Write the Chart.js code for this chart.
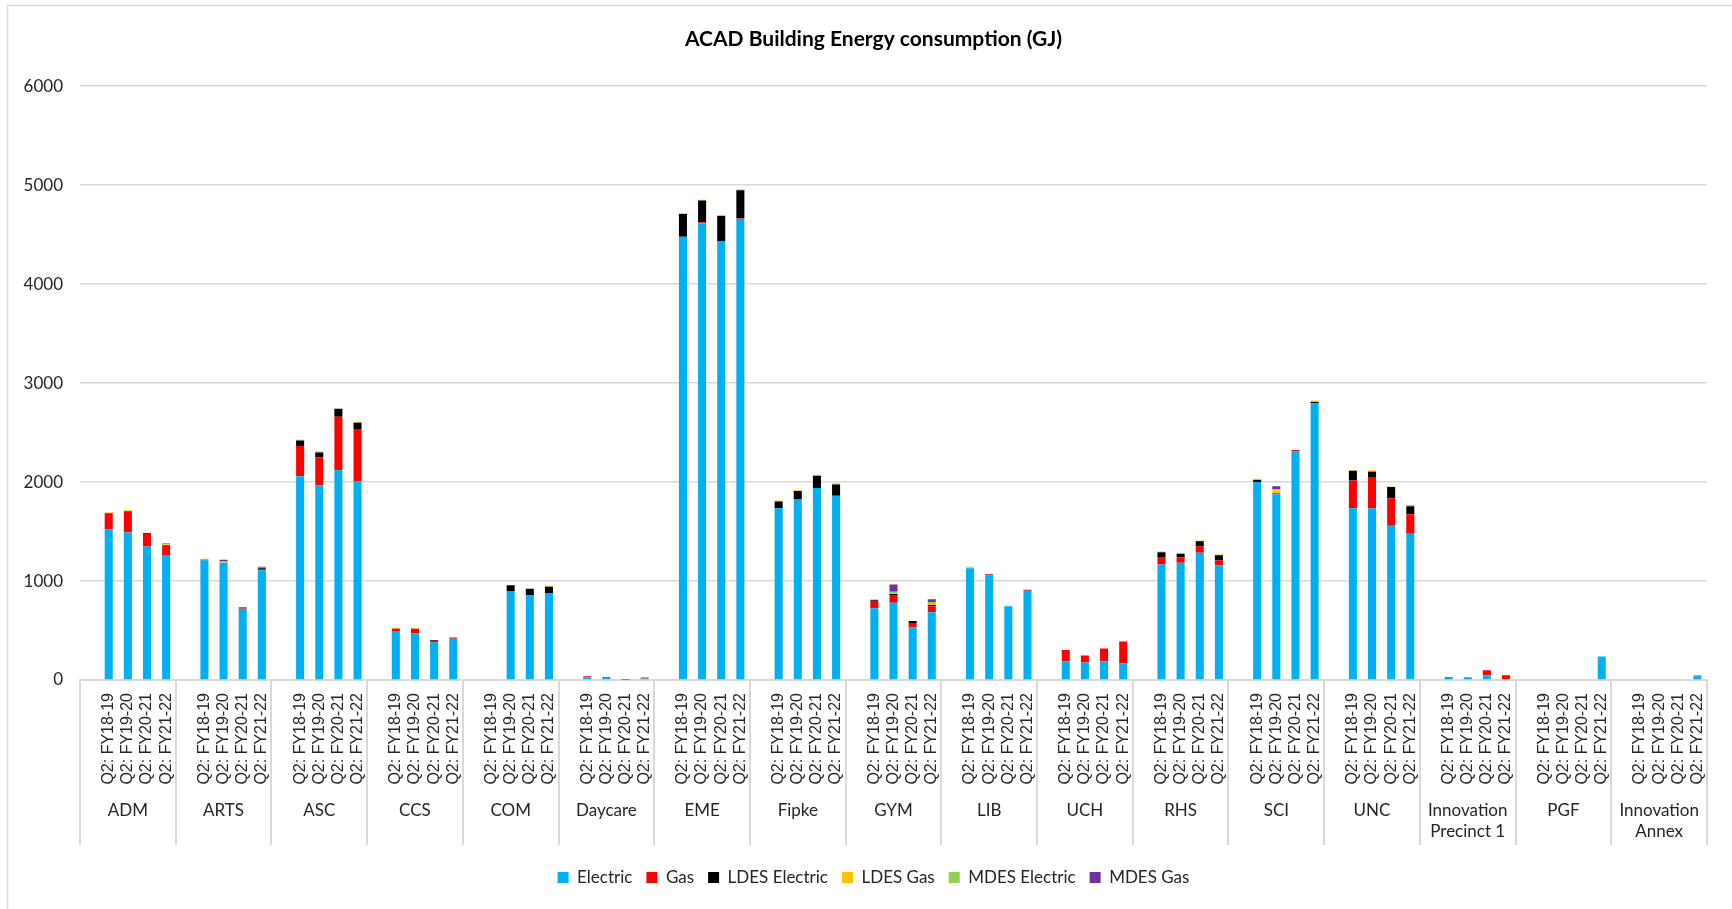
<!DOCTYPE html>
<html>
<head>
<meta charset="utf-8">
<title>ACAD Building Energy consumption (GJ)</title>
<script src="https://cdn.jsdelivr.net/npm/chart.js@4.4.0/dist/chart.umd.min.js"></script>
<style>
  html, body { margin: 0; padding: 0; background: #fff; }
  #wrap { width: 1732px; height: 909px; position: relative; }
</style>
</head>
<body>
<div id="wrap"><canvas id="energyChart"></canvas></div>
<script>
// --- data (GJ) ---
const buildings = ['ADM', 'ARTS', 'ASC', 'CCS', 'COM', 'Daycare', 'EME', 'Fipke', 'GYM', 'LIB',
  'UCH', 'RHS', 'SCI', 'UNC', ['Innovation', 'Precinct 1'], 'PGF', ['Innovation', 'Annex']];
const quarters = ['Q2: FY18-19', 'Q2: FY19-20', 'Q2: FY20-21', 'Q2: FY21-22'];

// one value per building per quarter, in the order of `buildings`
const electric = [
  1520, 1490, 1350, 1255,   1210, 1185, 720, 1110,   2060, 1965, 2120, 2005,   495, 470, 380, 417,
  0, 900, 860, 880,   27, 20, 5, 14,   4480, 4615, 4430, 4660,   1735, 1830, 1940, 1860,
  725, 780, 532, 685,   1130, 1058, 746, 902,   190, 176, 190, 166,   1166, 1186, 1285, 1156,
  2000, 1878, 2312, 2797,   1736, 1732, 1559, 1478,   20, 27, 47, 10,   0, 0, 0, 237,   0, 0, 0, 37
];
const gas = [
  160, 210, 125, 105,   5, 0, 8, 12,   305, 285, 540, 530,   24, 48, 17, 10,
  0, 0, 0, 0,   10, 7, 5, 5,   0, 10, 0, 8,   0, 0, 0, 10,
  72, 78, 44, 60,   0, 5, 0, 8,   112, 71, 129, 224,   78, 51, 64, 54,
  0, 10, 13, 0,   281, 319, 278, 197,   7, 0, 51, 38,   0, 0, 0, 0,   0, 0, 0, 8
];
const ldesElectric = [
  5, 5, 8, 5,   0, 0, 0, 8,   55, 48, 82, 65,   0, 0, 6, 0,
  0, 58, 62, 62,   0, 0, 0, 0,   228, 220, 262, 280,   68, 80, 125, 105,
  10, 10, 21, 13,   0, 0, 0, 0,   0, 0, 0, 0,   48, 38, 54, 51,
  20, 0, 0, 13,   98, 54, 112, 81,   0, 0, 0, 0,   0, 0, 0, 0,   0, 0, 0, 0
];
const ldesGas = [
  8, 10, 0, 5,   10, 8, 0, 5,   7, 14, 0, 10,   10, 7, 0, 7,
  0, 0, 0, 10,   0, 0, 0, 0,   8, 7, 0, 8,   10, 7, 5, 13,
  10, 10, 0, 10,   8, 0, 0, 8,   0, 0, 0, 0,   6, 6, 7, 7,
  14, 30, 0, 14,   7, 14, 7, 13,   0, 0, 0, 0,   0, 0, 0, 0,   0, 0, 0, 0
];
const mdesElectric = [
  0, 0, 0, 5,   0, 5, 0, 0,   0, 0, 0, 0,   0, 0, 0, 0,
  0, 0, 0, 0,   0, 0, 0, 0,   0, 0, 0, 0,   0, 0, 0, 0,
  0, 14, 0, 20,   6, 0, 0, 0,   0, 0, 0, 0,   0, 0, 0, 0,
  0, 10, 0, 0,   0, 0, 0, 0,   0, 0, 0, 0,   0, 0, 0, 0,   0, 0, 0, 0
];
const mdesGas = [
  0, 0, 0, 5,   0, 18, 7, 10,   0, 0, 0, 0,   0, 0, 0, 0,
  0, 0, 0, 0,   0, 0, 0, 5,   0, 0, 0, 0,   0, 0, 0, 0,
  0, 74, 0, 27,   0, 8, 0, 0,   0, 0, 0, 0,   0, 0, 0, 0,
  0, 30, 0, 0,   0, 0, 0, 0,   0, 0, 0, 0,   0, 0, 0, 0,   0, 0, 0, 0
];

const seriesNames = ['Electric', 'Gas', 'LDES Electric', 'LDES Gas', 'MDES Electric', 'MDES Gas'];
const seriesColors = ['#00B0F0', '#FF0000', '#000000', '#FFC000', '#92D050', '#7030A0'];

// Excel left an empty slot at the start of every building group
const SLOTS = quarters.length + 1;
const labels = [];
buildings.forEach(() => { labels.push(''); quarters.forEach(q => labels.push(q)); });

function spread(values) {
  const out = [];
  buildings.forEach((b, i) => {
    out.push(null);
    for (let j = 0; j < quarters.length; j++) out.push(values[i * quarters.length + j]);
  });
  return out;
}

const seriesValues = [electric, gas, ldesElectric, ldesGas, mdesElectric, mdesGas];

const chartData = {
  labels: labels,
  datasets: seriesNames.map((name, i) => ({
    label: name,
    data: spread(seriesValues[i]),
    backgroundColor: seriesColors[i],
    borderWidth: 0,
    barPercentage: 0.42,
    categoryPercentage: 1.0
  }))
};

// outer frame, group separators and the building names under the quarter labels
const groupAxis = {
  id: 'groupAxis',
  beforeDraw(chart) {
    const ctx = chart.ctx;
    ctx.save();
    ctx.strokeStyle = '#d9d9d9';
    ctx.lineWidth = 1.5;
    ctx.beginPath();
    ctx.moveTo(7, 5.5); ctx.lineTo(1732, 5.5);
    ctx.moveTo(7.5, 5); ctx.lineTo(7.5, 909);
    ctx.stroke();
    ctx.restore();
  },
  afterDraw(chart) {
    const ctx = chart.ctx;
    const x = chart.scales.x;
    const base = chart.chartArea.bottom;
    const slot = x.getPixelForValue(1) - x.getPixelForValue(0);
    ctx.save();
    ctx.strokeStyle = '#d9d9d9';
    ctx.lineWidth = 2;
    ctx.beginPath();
    for (let g = 0; g <= buildings.length; g++) {
      const px = Math.round(x.getPixelForValue(g * SLOTS) - slot / 2);
      ctx.moveTo(px, base);
      ctx.lineTo(px, 845);
    }
    ctx.stroke();

    ctx.fillStyle = '#262626';
    ctx.font = '17px Lato';
    ctx.textAlign = 'center';
    ctx.textBaseline = 'middle';
    buildings.forEach((b, g) => {
      const left = x.getPixelForValue(g * SLOTS) - slot / 2;
      const cx = left + slot * SLOTS / 2;
      const lines = Array.isArray(b) ? b : [b];
      lines.forEach((t, k) => ctx.fillText(t, cx, 811 + k * 21));
    });
    ctx.restore();
  }
};

const chartOptions = {
  responsive: true,
  maintainAspectRatio: false,
  animation: false,
  layout: { padding: { left: 20, right: 5, top: 0, bottom: 13 } },
  scales: {
    x: {
      stacked: true,
      afterFit: (s) => { s.height = 175; },
      grid: { display: false, drawTicks: false },
      border: { display: true, color: '#d9d9d9', width: 2 },
      ticks: {
        autoSkip: false,
        maxRotation: 90,
        minRotation: 90,
        padding: 13,
        color: '#262626',
        font: { family: 'Liberation Sans', size: 16 }
      }
    },
    y: {
      stacked: true,
      min: 0,
      max: 6000,
      afterFit: (s) => { s.width = 60; },
      grid: { color: '#d9d9d9', lineWidth: 1.5, drawTicks: false },
      border: { display: false },
      ticks: {
        stepSize: 1000,
        padding: 17,
        color: '#262626',
        font: { family: 'Lato', size: 17 },
        callback: (v) => String(v)
      }
    },
    // empty spacer on the right so the title and legend centre like the original
    yRight: {
      position: 'right',
      afterFit: (s) => { s.width = 20; },
      grid: { display: false },
      border: { display: false },
      ticks: { display: false }
    }
  },
  plugins: {
    title: {
      display: true,
      text: 'ACAD Building Energy consumption (GJ)',
      color: '#000',
      font: { family: 'Lato', size: 21, weight: 'bold' },
      padding: { top: 27, bottom: 34 }
    },
    legend: {
      position: 'bottom',
      labels: {
        boxWidth: 11,
        boxHeight: 11,
        padding: 14,
        color: '#262626',
        font: { family: 'Lato', size: 17 }
      }
    },
    tooltip: { enabled: false }
  }
};

new Chart(document.getElementById('energyChart'), {
  type: 'bar',
  data: chartData,
  options: chartOptions,
  plugins: [groupAxis]
});
</script>
</body>
</html>
